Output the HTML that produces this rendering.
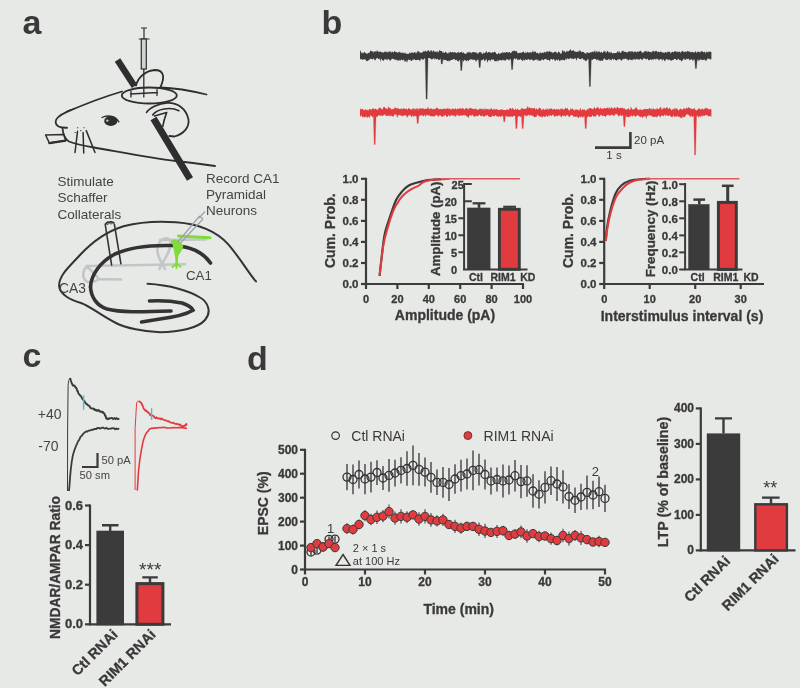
<!DOCTYPE html>
<html><head><meta charset="utf-8"><title>Figure</title>
<style>html,body{margin:0;padding:0;background:#e7e9e6;width:800px;height:688px;overflow:hidden}svg{display:block;will-change:transform}text{font-family:"Liberation Sans",sans-serif}</style>
</head><body><svg width="800" height="688" viewBox="0 0 800 688">
<rect width="800" height="688" fill="#e7e9e6"/>
<g font-family="Liberation Sans" font-weight="bold" font-size="34" fill="#393939">
<text x="22.5" y="33.5">a</text><text x="321.5" y="34">b</text><text x="22.5" y="366.5">c</text><text x="247" y="369.5">d</text>
</g>
<g fill="none" stroke="#2e2e2e" stroke-width="1.8" stroke-linecap="round" stroke-linejoin="round">
<path d="M122,91.5 C105,96.5 85,104 66.9,111.9 C60,115 55.5,119 55.6,122 C55.8,126 60,128 67,127.75"/>
<path d="M160.5,87.5 C175,88 192,91 206.5,94.5"/>
<path d="M62.5,128.5 C63,133 65,139 69,141.5 C75,144 85,146 94,147.5 C120,152 150,158 176,161 C190,162.5 205,164.5 215,166"/>
<path d="M66.5,111.5 l4,-1.8 M70.5,110 l4,-1.6" stroke-width="1.1"/>
<path d="M45.6,135 L63.75,134.5 L65.6,140.6 L49.4,143.1 Z" stroke-width="1.5"/><path d="M49.4,143.1 L65.6,140.6" stroke-width="2.2"/>
<path d="M77.5,131.3 L75,152.5 M83.1,132.5 L83.75,153.1 M86.25,130.6 L95,152.5" stroke-width="1.5"/>
<path d="M77.5,127.8 l0.3,0 M83.8,127.8 l0.3,0 M75,132.5 l0.3,0 M80.6,130.6 l0.3,0" stroke-width="1.1"/>
<ellipse cx="110.8" cy="121" rx="6.6" ry="4.9" fill="#2e2e2e" stroke="none"/>
<path d="M102,117.5 C107,114.8 115,115.5 118.8,121.8" stroke-width="1.4"/>
<circle cx="107.3" cy="120.6" r="1.2" fill="#c8cac8" stroke="none"/>
<path d="M146.6,112.4 C149,108.5 158,103 167.5,102.8 C177,102.5 186,108 188.5,119.4 C189.5,127 184,134 174.5,136.5 L169.3,136"/>
<path d="M152.7,115 C157,109 170,106.5 179,110.7" stroke-width="1.6"/>
<path d="M154.5,116 L166.7,112.4 C165,117 163.5,122 162.8,126.3" stroke-width="1.6"/>
<path d="M136,85.5 C138,77 146,70.5 155,70 C163,70 166,76 160,88"/>
<ellipse cx="149.3" cy="95.5" rx="27.5" ry="8"/>
<path d="M130.5,94 L157.5,92.5 M131,91 l0,6 M157,89.5 l0,6" stroke-width="1.3"/>
</g>
<path d="M117.5,60 L134.5,86.3" stroke="#2e2e2e" stroke-width="6.5" fill="none"/>
<path d="M153.5,118.5 L190,179" stroke="#2e2e2e" stroke-width="7" fill="none"/>
<g stroke="#2e2e2e" stroke-width="1.2" fill="none">
<path d="M141,28 L147,28 M144,28 L144,39 M138.8,39 L149.5,39"/>
<rect x="141.3" y="39" width="5" height="30" fill="#cfd3d4"/>
<path d="M143.8,69 L143.8,97.5" stroke-width="1.3"/>
</g>
<g fill="none" stroke="#333" stroke-linecap="round" stroke-linejoin="round">
<path stroke-width="2" d="M256,281.4 C250,275 240,258 228.5,244.6 C218,233 200,224 176,222.3 C160,221 140,222 123.5,226.2 C108,231 92,242 80,255 C70,266 58,276 59.2,286.6 C60,294 70,300 81,303 C90,306 100,315 115,322.5 C125,328 145,332 160,332.2 C180,332 198,328 205,320 C212,312 208,302 200,297.5 C190,291 170,285 147.5,283.8"/>
</g>
<g fill="none" stroke="#c4c5c6" stroke-width="2.6" stroke-linecap="round" stroke-linejoin="round">
<path d="M87,266 L185,264.3"/>
<path d="M87,266 C83,270 82,276 85,280 C88,284 95,282 99,279 L121,279.5 M99,279 C95,274 90,270 87,266"/>
<path d="M162,263.5 C158,257 156,249 159,243 C162,238 168,237 170,240.5 C172,245 168,255 162,263.5 M160,240 L206,239.5 M162,263 l-2.5,6 M162,263 l3,6"/>
</g>
<g fill="none" stroke="#333" stroke-width="3.6" stroke-linecap="round">
<path d="M90.5,287 C91,275 100,262 115,254 C130,247 150,245 172,245.5 C190,246 203,252 210.5,263"/>
<path d="M90.5,287 C91,297 97,306 107,309 C120,312.5 140,312 171,311"/>
<path d="M149.5,301 C160,300.5 172,301 182,303 C188,305 192,308 193,310.2 C185,315 175,317 160,319 L141.5,322"/>
</g>
<g fill="none" stroke="#333" stroke-width="1.6">
<path d="M105.3,225 L111.7,265.6 M114.3,223.8 L121,264.3 M105,225 C106,222 112,220.5 114.5,223.5"/>
<path d="M107.5,224.5 a1.3,1.3 0 1 1 0.1,0 M111,224 a1.3,1.3 0 1 1 0.1,0" stroke-width="1"/>
</g>
<g fill="#7fdc3a" stroke="#7fdc3a" stroke-linecap="round">
<path d="M178.6,236 L210,237.8" stroke-width="3" fill="none"/>
<path d="M172,241.5 C175,240 180,241 182,246 C181,251 178,253 177,256 L176.5,264" stroke-width="2.5"/>
<path d="M176.5,264 l-4,3 M176.5,264 l4,2.5 M176.5,264 l0,4" stroke-width="2" fill="none"/>
</g>
<g fill="none" stroke="#9aa3a7" stroke-width="1.2">
<path d="M205,211.5 L199,218 M199.5,216 L177.5,242.5 M203,219 L180,243.5 M199.5,216 L203,219"/>
</g>
<g font-family="Liberation Sans" font-size="13.5" fill="#444">
<text x="57.5" y="186">Stimulate</text><text x="57.5" y="202.3">Schaffer</text><text x="57.5" y="218.5">Collaterals</text>
<text x="206" y="182.5">Record CA1</text><text x="206" y="198.8">Pyramidal</text><text x="206" y="215">Neurons</text>
<text x="59" y="293" font-size="13.8">CA3</text><text x="186" y="280.3" font-size="13.3">CA1</text>
</g>
<path d="M360,52.2 360.7,49.9 361.4,53 362.1,53.4 362.8,52.3 363.5,53.6 364.2,51.5 364.9,52.5 365.6,52.9 366.3,53.7 367,53.6 367.7,53.6 368.4,53 369.1,52.4 369.8,52.6 370.5,50.2 371.2,50.9 371.9,50.9 372.6,51.6 373.3,52.7 374,50.8 374.7,52.2 375.4,50.7 376.1,52.2 376.8,50.5 377.5,50.4 378.2,52.3 378.9,51.2 379.6,51.9 380.3,51.3 381,51.9 381.7,52.6 382.4,52.1 383.1,53.1 383.8,51.9 384.5,51.5 385.2,52.6 385.9,51.1 386.6,52.1 387.3,52.2 388,52.4 388.7,51.5 389.4,51 390.1,52.7 390.8,50.7 391.5,52.8 392.2,51.4 392.9,51.9 393.6,52.7 394.3,50.7 395,51.5 395.7,51.9 396.4,51.9 397.1,52.8 397.8,52.4 398.5,52.1 399.2,52.4 399.9,51.3 400.6,53.1 401.3,53 402,52.4 402.7,52.4 403.4,53.6 404.1,52.1 404.8,54.1 405.5,52.4 406.2,53.9 406.9,53.5 407.6,54.1 408.3,53.8 409,53.7 409.7,52.3 410.4,53.4 411.1,52.5 411.8,52.6 412.5,52.4 413.2,53.2 413.9,52.4 414.6,51.8 415.3,53.4 416,51.6 416.7,53.7 417.4,51.3 418.1,51.1 418.8,51.4 419.5,52.6 420.2,52.2 420.9,52.7 421.6,52.8 422.3,52.5 423,51.8 423.7,50.9 424.4,51.5 425.1,51.3 425.8,50.4 426.5,51.8 427.2,51.6 427.9,50.3 428.6,50.1 429.3,51.6 430,52.1 430.7,50.2 431.4,50.5 432.1,50.5 432.8,52.4 433.5,50 434.2,50.9 434.9,52.3 435.6,51.4 436.3,51.3 437,52.7 437.7,50.9 438.4,52.7 439.1,50.4 439.8,50.3 440.5,50.9 441.2,50.9 441.9,51 442.6,53 443.3,51.5 444,53.2 444.7,52.7 445.4,51.6 446.1,52.4 446.8,52.6 447.5,53.4 448.2,53.7 448.9,51.8 449.6,53.1 450.3,51.4 451,52.5 451.7,52.3 452.4,51.8 453.1,53.1 453.8,52.1 454.5,52.2 455.2,52 455.9,53.1 456.6,53.3 457.3,52 458,52.8 458.7,52 459.4,53 460.1,52.1 460.8,52.5 461.5,51.6 462.2,52.5 462.9,53.3 463.6,52 464.3,53.3 465,54 465.7,53.7 466.4,53.8 467.1,52 467.8,52.7 468.5,52.3 469.2,52.6 469.9,51.6 470.6,52.7 471.3,53.6 472,51.9 472.7,52.5 473.4,51.9 474.1,52 474.8,52.5 475.5,51.9 476.2,53.4 476.9,51.9 477.6,53.8 478.3,53.8 479,51.9 479.7,52.2 480.4,52.2 481.1,52.1 481.8,53.4 482.5,54 483.2,53.6 483.9,52 484.6,53.6 485.3,52.7 486,51.3 486.7,51.4 487.4,53.3 488.1,52.2 488.8,52 489.5,52.2 490.2,52.1 490.9,53.3 491.6,52.7 492.3,52 493,52.5 493.7,52.4 494.4,51.7 495.1,51.8 495.8,52.7 496.5,54.1 497.2,54.2 497.9,54 498.6,52.6 499.3,54.4 500,52.6 500.7,54.1 501.4,52.4 502.1,53.5 502.8,51.6 503.5,53 504.2,52.3 504.9,52.7 505.6,52.6 506.3,51.7 507,52.4 507.7,52.3 508.4,52.7 509.1,51.9 509.8,52 510.5,53.3 511.2,53 511.9,51.6 512.6,51.3 513.3,50.6 514,51.2 514.7,50.4 515.4,51.2 516.1,51.5 516.8,50.5 517.5,53.2 518.2,53 518.9,53.3 519.6,52.8 520.3,52.4 521,53.2 521.7,52.6 522.4,52.2 523.1,51.6 523.8,51.7 524.5,53 525.2,53.3 525.9,51.6 526.6,53.5 527.3,51.5 528,52.4 528.7,52.5 529.4,52.5 530.1,52.5 530.8,52 531.5,52.8 532.2,52.2 532.9,50.3 533.6,52.1 534.3,52.2 535,51.2 535.7,51.4 536.4,53.2 537.1,53 537.8,52.5 538.5,53.7 539.2,53.9 539.9,52.1 540.6,52.4 541.3,52.9 542,53.2 542.7,52.3 543.4,53.3 544.1,51.6 544.8,52.4 545.5,52 546.2,52.5 546.9,51.1 547.6,51.5 548.3,52.3 549,51.1 549.7,51.2 550.4,51.9 551.1,51.5 551.8,52.6 552.5,52.5 553.2,52.8 553.9,52.4 554.6,51.7 555.3,51.8 556,51.8 556.7,52.8 557.4,53.7 558.1,51.3 558.8,52 559.5,52 560.2,53.7 560.9,53.5 561.6,53.5 562.3,50.2 563,50.3 563.7,52.1 564.4,50.4 565.1,52.2 565.8,52.4 566.5,51.2 567.2,50.5 567.9,51.9 568.6,51.1 569.3,50.7 570,49.9 570.7,48.9 571.4,51.2 572.1,50.7 572.8,50.6 573.5,50.1 574.2,51.6 574.9,51.2 575.6,51.7 576.3,51.7 577,52.2 577.7,51.2 578.4,52 579.1,49.8 579.8,51.7 580.5,50.2 581.2,52 581.9,52.1 582.6,51.7 583.3,52 584,52.2 584.7,53.2 585.4,53.3 586.1,54.1 586.8,52.1 587.5,52.4 588.2,53 588.9,52.7 589.6,53 590.3,52.3 591,52.1 591.7,52.6 592.4,51.6 593.1,51.8 593.8,52.3 594.5,50.1 595.2,52.9 595.9,50.5 596.6,51.5 597.3,52.7 598,50.2 598.7,52.2 599.4,51.2 600.1,52.2 600.8,52.8 601.5,51.5 602.2,52.7 602.9,52.9 603.6,51 604.3,51.7 605,50.3 605.7,52.7 606.4,52.6 607.1,51.3 607.8,50.8 608.5,52.8 609.2,51.5 609.9,53.3 610.6,52.2 611.3,51.8 612,53.2 612.7,53.4 613.4,53.1 614.1,53.2 614.8,52.9 615.5,53 616.2,53.1 616.9,52.6 617.6,50.8 618.3,53.1 619,50.5 619.7,52.3 620.4,52.8 621.1,53 621.8,50.7 622.5,50.9 623.2,50.6 623.9,52.1 624.6,51.7 625.3,51.6 626,52.6 626.7,52 627.4,52.4 628.1,52 628.8,51.3 629.5,51.3 630.2,50.9 630.9,52.4 631.6,51.1 632.3,51.3 633,51.7 633.7,52.5 634.4,51.8 635.1,51.1 635.8,52 636.5,52.4 637.2,51.6 637.9,51.6 638.6,51.9 639.3,51.2 640,50.9 640.7,50.8 641.4,51.5 642.1,52.8 642.8,52.7 643.5,52.6 644.2,51.3 644.9,51.5 645.6,51 646.3,51.8 647,50.5 647.7,52.5 648.4,51 649.1,51.7 649.8,52.1 650.5,52.3 651.2,51.6 651.9,52.8 652.6,51 653.3,50.4 654,51.8 654.7,51.5 655.4,50.8 656.1,51.6 656.8,50.4 657.5,52.3 658.2,52 658.9,51.4 659.6,52.4 660.3,51.4 661,51.5 661.7,52.2 662.4,52.7 663.1,52.1 663.8,53.1 664.5,52.8 665.2,52.3 665.9,51.9 666.6,52.7 667.3,52.3 668,51.6 668.7,52.1 669.4,51.5 670.1,52 670.8,53.9 671.5,51.9 672.2,51.9 672.9,51.4 673.6,52.6 674.3,51 675,52.1 675.7,50.8 676.4,51.6 677.1,52.4 677.8,51.3 678.5,52.2 679.2,51.8 679.9,51.5 680.6,52.9 681.3,51.8 682,50.9 682.7,50.9 683.4,52.2 684.1,51.2 684.8,52.6 685.5,50.9 686.2,52.6 686.9,51.4 687.6,50.8 688.3,51.3 689,51.8 689.7,51.5 690.4,51.9 691.1,52.4 691.8,52 692.5,51.7 693.2,51.9 693.9,53 694.6,52.3 695.3,51.1 696,51.9 696.7,53.1 697.4,51.8 698.1,51.7 698.8,51.5 699.5,52.4 700.2,52.3 700.9,51.2 701.6,51.2 702.3,51.1 703,52.4 703.7,52 704.4,52.1 705.1,51.4 705.8,53.8 706.5,51.4 707.2,51.7 707.9,52.4 708.6,51.8 709.3,51.6 710,51.9 710.7,51.4 711.4,52.3 L711.4,58.7 710.7,59.9 710,58.4 709.3,59.2 708.6,58.7 707.9,57.9 707.2,59.6 706.5,60.3 705.8,61.3 705.1,59.4 704.4,59.8 703.7,60 703,59.6 702.3,60.5 701.6,59.6 700.9,60.1 700.2,59.1 699.5,60.3 698.8,61.5 698.1,58.8 697.4,60.8 696.7,59.3 696,61.1 695.3,60.7 694.6,59.6 693.9,59 693.2,61 692.5,60.4 691.8,59.1 691.1,59.6 690.4,59.8 689.7,60.4 689,59.2 688.3,58.4 687.6,58.9 686.9,59.6 686.2,58.5 685.5,59.9 684.8,60.3 684.1,58.3 683.4,59.1 682.7,60 682,61.2 681.3,61.6 680.6,59.7 679.9,60.2 679.2,59.8 678.5,58.5 677.8,59.4 677.1,59.8 676.4,60.2 675.7,58.9 675,59.1 674.3,58.7 673.6,59.9 672.9,59.8 672.2,60.2 671.5,60.7 670.8,60.4 670.1,59.9 669.4,59.7 668.7,59.2 668,60.8 667.3,59 666.6,59.2 665.9,59.2 665.2,61.1 664.5,61.3 663.8,59.4 663.1,59.1 662.4,61.1 661.7,59.2 661,59.3 660.3,58.8 659.6,60.6 658.9,59 658.2,60.5 657.5,58.7 656.8,58.6 656.1,59.4 655.4,59.4 654.7,58.4 654,59.6 653.3,59.4 652.6,58.9 651.9,60.5 651.2,59.2 650.5,59.2 649.8,60 649.1,60.2 648.4,60.2 647.7,58.6 647,59 646.3,59.4 645.6,58.9 644.9,58.4 644.2,58.4 643.5,58.1 642.8,60 642.1,59.6 641.4,59.7 640.7,58.5 640,59.1 639.3,59.8 638.6,59.2 637.9,59.9 637.2,58.8 636.5,58.8 635.8,60.2 635.1,58.9 634.4,59.5 633.7,58.8 633,60.4 632.3,59.4 631.6,60 630.9,60.3 630.2,59.3 629.5,59.2 628.8,59.9 628.1,60.8 627.4,58.9 626.7,59.6 626,58.7 625.3,58.5 624.6,59.3 623.9,58.2 623.2,59.5 622.5,59.3 621.8,60.4 621.1,60.7 620.4,59.6 619.7,58.8 619,59.8 618.3,59.2 617.6,59.3 616.9,61.1 616.2,60.1 615.5,60.3 614.8,59.2 614.1,59.1 613.4,59.9 612.7,58.7 612,58.7 611.3,60.7 610.6,59.3 609.9,60.8 609.2,58.7 608.5,58.9 607.8,59.8 607.1,59.9 606.4,59.9 605.7,60.1 605,58.5 604.3,58.5 603.6,59 602.9,60.9 602.2,60.8 601.5,60.2 600.8,61.3 600.1,60.4 599.4,60.6 598.7,60.8 598,58.8 597.3,60.3 596.6,60.2 595.9,58.9 595.2,59 594.5,58.7 593.8,59 593.1,59.2 592.4,59.9 591.7,60.2 591,59.1 590.3,58.5 589.6,59.1 588.9,59.5 588.2,58.6 587.5,59.6 586.8,60.3 586.1,61.2 585.4,61 584.7,60.3 584,59.2 583.3,60.1 582.6,58.2 581.9,57.9 581.2,59.4 580.5,59 579.8,59 579.1,58.9 578.4,57.4 577.7,58.2 577,58.5 576.3,61.1 575.6,57.9 574.9,58.5 574.2,58.6 573.5,59.3 572.8,58.8 572.1,58.4 571.4,59 570.7,57.7 570,58.9 569.3,58.2 568.6,59.6 567.9,58.2 567.2,58.5 566.5,59.9 565.8,57.9 565.1,60.3 564.4,60.6 563.7,59.8 563,60.3 562.3,59.7 561.6,60.2 560.9,59.5 560.2,60.9 559.5,61.3 558.8,59.7 558.1,59.3 557.4,61 556.7,59.6 556,59.7 555.3,61.3 554.6,60.3 553.9,59.1 553.2,58.9 552.5,60.1 551.8,59.1 551.1,58.9 550.4,59.4 549.7,61.6 549,59.7 548.3,60.1 547.6,60.1 546.9,59.8 546.2,59.1 545.5,59 544.8,59 544.1,59.8 543.4,60.4 542.7,59.3 542,59.6 541.3,60.1 540.6,60.8 539.9,60.6 539.2,60.9 538.5,60.6 537.8,59.2 537.1,60.8 536.4,59.2 535.7,59.5 535,60.3 534.3,60.2 533.6,60.7 532.9,60.5 532.2,59.8 531.5,59 530.8,60.6 530.1,59.6 529.4,60 528.7,59.3 528,59.1 527.3,59.9 526.6,60 525.9,59.6 525.2,59.5 524.5,60.9 523.8,59.1 523.1,60.9 522.4,60.7 521.7,60 521,59.9 520.3,58.6 519.6,60 518.9,59.6 518.2,59.8 517.5,60.2 516.8,58.6 516.1,58.4 515.4,59.4 514.7,58.6 514,58.2 513.3,59.7 512.6,61 511.9,59.2 511.2,58.7 510.5,58.9 509.8,60.6 509.1,58.8 508.4,60.7 507.7,59 507,59.9 506.3,58.8 505.6,61 504.9,60 504.2,60.7 503.5,59.8 502.8,60.8 502.1,59.2 501.4,61.1 500.7,60 500,60 499.3,60.3 498.6,61.4 497.9,59.5 497.2,61.6 496.5,61 495.8,61.5 495.1,60.8 494.4,61.4 493.7,59.2 493,59.4 492.3,60 491.6,59.4 490.9,59.2 490.2,62.1 489.5,59.8 488.8,59.9 488.1,60.8 487.4,62.8 486.7,59.8 486,59.1 485.3,60.8 484.6,61.4 483.9,59 483.2,59.6 482.5,60 481.8,60.3 481.1,60.2 480.4,61 479.7,59.7 479,59.5 478.3,59.3 477.6,60.3 476.9,59.6 476.2,61.9 475.5,60.8 474.8,60.1 474.1,59.6 473.4,60 472.7,60.1 472,59 471.3,59.5 470.6,59.6 469.9,59.4 469.2,60.1 468.5,61.2 467.8,60.6 467.1,60 466.4,61.7 465.7,60.3 465,60.2 464.3,59.7 463.6,61.9 462.9,59.9 462.2,60.3 461.5,59.8 460.8,60 460.1,59.2 459.4,60.2 458.7,61.8 458,61 457.3,61 456.6,59.4 455.9,60.4 455.2,59.7 454.5,59.3 453.8,58.9 453.1,59.6 452.4,59.6 451.7,60 451,60.1 450.3,60.5 449.6,61.5 448.9,60.1 448.2,61.5 447.5,61 446.8,60.7 446.1,60 445.4,60 444.7,59.8 444,60.4 443.3,59.5 442.6,59.2 441.9,58.6 441.2,58.9 440.5,58.3 439.8,59.9 439.1,59.5 438.4,60.3 437.7,58.8 437,58.7 436.3,59.6 435.6,59 434.9,58.1 434.2,60 433.5,57.7 432.8,59.4 432.1,58.8 431.4,59.7 430.7,58.7 430,58 429.3,58.2 428.6,58.1 427.9,58 427.2,58.7 426.5,59.8 425.8,58.3 425.1,58.9 424.4,57.9 423.7,60.1 423,59 422.3,60 421.6,58.7 420.9,58.8 420.2,61.2 419.5,60.6 418.8,59.6 418.1,60.2 417.4,59.7 416.7,60.2 416,59.8 415.3,60.4 414.6,59.1 413.9,60 413.2,59.2 412.5,60 411.8,61.1 411.1,60.9 410.4,59.8 409.7,60.3 409,59.7 408.3,59.5 407.6,60.9 406.9,62.8 406.2,60.1 405.5,61.6 404.8,62 404.1,60.3 403.4,59.5 402.7,60.5 402,60.1 401.3,59.3 400.6,60.9 399.9,59.5 399.2,60.8 398.5,60.6 397.8,60.3 397.1,60.7 396.4,59.5 395.7,59.8 395,59.7 394.3,59.4 393.6,59 392.9,58.7 392.2,58.8 391.5,59.1 390.8,60.4 390.1,60.6 389.4,60.3 388.7,59 388,58.8 387.3,60.3 386.6,60 385.9,58.5 385.2,60 384.5,59 383.8,60.6 383.1,61 382.4,60.1 381.7,59.7 381,58.2 380.3,62.1 379.6,58.4 378.9,58.8 378.2,59.2 377.5,57.8 376.8,58.3 376.1,58.8 375.4,60.2 374.7,60.6 374,58.7 373.3,58.4 372.6,59.4 371.9,59.3 371.2,58.7 370.5,58.7 369.8,58.9 369.1,60.3 368.4,60.2 367.7,60.7 367,61.2 366.3,60.9 365.6,59.4 364.9,59.8 364.2,59 363.5,59.6 362.8,59.5 362.1,60 361.4,58.9 360.7,59.5 360,58.4Z" fill="#3b3b3b" stroke="none"/><path d="M425.2,55.7 L426.1,99 L427.1,99 L428.1,55.7Z" fill="#3b3b3b" stroke="#3b3b3b" stroke-width="0.3"/><path d="M459.9,55.7 L460.8,70.5 L461.8,70.5 L462.8,55.7Z" fill="#3b3b3b" stroke="#3b3b3b" stroke-width="0.3"/><path d="M478.3,55.7 L479.2,67.5 L480.2,67.5 L481.2,55.7Z" fill="#3b3b3b" stroke="#3b3b3b" stroke-width="0.3"/><path d="M510.7,55.7 L511.6,69.5 L512.6,69.5 L513.6,55.7Z" fill="#3b3b3b" stroke="#3b3b3b" stroke-width="0.3"/><path d="M588.5,55.7 L589.4,86.5 L590.4,86.5 L591.4,55.7Z" fill="#3b3b3b" stroke="#3b3b3b" stroke-width="0.3"/><path d="M694.5,55.7 L695.4,68.5 L696.4,68.5 L697.4,55.7Z" fill="#3b3b3b" stroke="#3b3b3b" stroke-width="0.3"/><path d="M440.4,55.7 L441.3,64 L442.3,64 L443.3,55.7Z" fill="#3b3b3b" stroke="#3b3b3b" stroke-width="0.3"/>
<path d="M360,107.8 360.7,109.5 361.4,109.3 362.1,109.2 362.8,108.6 363.5,110 364.2,110.6 364.9,109.5 365.6,109.2 366.3,110.2 367,108.9 367.7,110.5 368.4,110.6 369.1,108.9 369.8,109.1 370.5,109.5 371.2,109.3 371.9,109.8 372.6,108.1 373.3,108.8 374,108.5 374.7,109.4 375.4,108.5 376.1,109.2 376.8,109.3 377.5,110.2 378.2,109.2 378.9,107.4 379.6,108.3 380.3,107.2 381,108.7 381.7,109 382.4,109.7 383.1,107.8 383.8,106.8 384.5,107.1 385.2,107.8 385.9,108.6 386.6,108.7 387.3,109 388,108.1 388.7,106 389.4,108.3 390.1,107.7 390.8,108.6 391.5,109.7 392.2,109 392.9,109.3 393.6,109.3 394.3,107.2 395,108.7 395.7,107.1 396.4,108.2 397.1,108.8 397.8,107.9 398.5,108.2 399.2,109.2 399.9,108.9 400.6,109 401.3,107.9 402,109.8 402.7,108.5 403.4,108.2 404.1,108.4 404.8,109.1 405.5,109 406.2,107.9 406.9,109.5 407.6,109.7 408.3,108.2 409,107.9 409.7,108.9 410.4,109.2 411.1,109 411.8,110.2 412.5,108.2 413.2,107.9 413.9,109.4 414.6,108.7 415.3,108.5 416,109.9 416.7,108 417.4,108 418.1,109.9 418.8,108.8 419.5,108.2 420.2,108.5 420.9,108.4 421.6,108.6 422.3,108.6 423,108.4 423.7,108.6 424.4,109.1 425.1,109.3 425.8,108.5 426.5,108.9 427.2,108.5 427.9,107 428.6,108 429.3,109.7 430,108.2 430.7,108.8 431.4,108.5 432.1,108.9 432.8,109.6 433.5,108.3 434.2,109.9 434.9,108.8 435.6,108.7 436.3,108.1 437,107.6 437.7,107.9 438.4,109.2 439.1,109.2 439.8,108.7 440.5,108.8 441.2,109.5 441.9,108.9 442.6,108.9 443.3,108.7 444,108.6 444.7,109.1 445.4,109.3 446.1,108 446.8,109.3 447.5,108.3 448.2,108.1 448.9,109.4 449.6,108.2 450.3,109.1 451,110 451.7,109 452.4,107.9 453.1,109 453.8,109.3 454.5,108.9 455.2,108.6 455.9,108.2 456.6,109.8 457.3,108.8 458,108.4 458.7,109.1 459.4,108 460.1,109.1 460.8,108.1 461.5,109.1 462.2,107.8 462.9,108.6 463.6,108.4 464.3,109.7 465,109.3 465.7,108.1 466.4,108 467.1,109.2 467.8,107.7 468.5,109.7 469.2,108.6 469.9,108 470.6,107.8 471.3,108.5 472,108.6 472.7,108.9 473.4,108.7 474.1,109.4 474.8,108.5 475.5,108.5 476.2,109.8 476.9,108.6 477.6,109.9 478.3,109.9 479,109.3 479.7,108.6 480.4,108.4 481.1,109.5 481.8,108.4 482.5,109.4 483.2,108.3 483.9,110 484.6,108.9 485.3,107.9 486,110 486.7,108.8 487.4,109 488.1,109.2 488.8,109.2 489.5,109.6 490.2,109.4 490.9,108.2 491.6,108.2 492.3,109.6 493,109.9 493.7,108.8 494.4,109 495.1,109.9 495.8,108.8 496.5,109.1 497.2,109.2 497.9,110.4 498.6,109.3 499.3,109.9 500,110 500.7,109.4 501.4,109.2 502.1,109.2 502.8,109.8 503.5,109.9 504.2,109.9 504.9,110 505.6,110.2 506.3,109.8 507,109.3 507.7,109.6 508.4,109.9 509.1,109.6 509.8,108 510.5,108.1 511.2,108.8 511.9,109.4 512.6,107.5 513.3,108.8 514,110.1 514.7,110 515.4,108.3 516.1,109.2 516.8,109.9 517.5,108.5 518.2,109.3 518.9,109.9 519.6,109.9 520.3,109.8 521,109 521.7,108 522.4,108.6 523.1,108.5 523.8,109 524.5,109.2 525.2,108.3 525.9,109.3 526.6,108.4 527.3,106.4 528,106.5 528.7,108.4 529.4,107.4 530.1,107.3 530.8,108.5 531.5,108.1 532.2,108.8 532.9,107.8 533.6,108.4 534.3,107.7 535,108 535.7,109.9 536.4,107.9 537.1,108.9 537.8,109.7 538.5,109.1 539.2,107.6 539.9,107.9 540.6,108.2 541.3,109.6 542,110.7 542.7,108.8 543.4,108.8 544.1,109.5 544.8,110.3 545.5,108.4 546.2,110 546.9,108.6 547.6,108.7 548.3,110 549,108.2 549.7,109.3 550.4,108.6 551.1,108.5 551.8,108.6 552.5,109.7 553.2,109.4 553.9,108.5 554.6,109.3 555.3,109.8 556,109.2 556.7,108.7 557.4,110.1 558.1,108.6 558.8,109.6 559.5,109.9 560.2,108.6 560.9,109.4 561.6,108.6 562.3,108.3 563,110.2 563.7,108.9 564.4,109.6 565.1,108.3 565.8,107.6 566.5,109 567.2,108.2 567.9,108.3 568.6,110.4 569.3,110.2 570,110 570.7,108.1 571.4,109.4 572.1,108.7 572.8,108.6 573.5,110.1 574.2,109.8 574.9,110.7 575.6,109 576.3,109.4 577,109.7 577.7,109.5 578.4,110 579.1,111.1 579.8,109.3 580.5,107.7 581.2,109.7 581.9,110.8 582.6,109.1 583.3,109.2 584,110.3 584.7,108.8 585.4,110.9 586.1,110.3 586.8,109.9 587.5,108.6 588.2,109.9 588.9,108.1 589.6,108.2 590.3,108.1 591,108.4 591.7,108.5 592.4,109.5 593.1,108.1 593.8,109.2 594.5,106.6 595.2,108.3 595.9,108.9 596.6,107.7 597.3,107.5 598,106.9 598.7,107.9 599.4,109.5 600.1,108.1 600.8,107.5 601.5,108.9 602.2,109.1 602.9,107.9 603.6,109 604.3,107.9 605,108 605.7,108.5 606.4,108.3 607.1,107.8 607.8,107.4 608.5,108.8 609.2,106.6 609.9,108.9 610.6,108.6 611.3,107.3 612,107.6 612.7,108.5 613.4,109 614.1,106.9 614.8,107.8 615.5,107.9 616.2,108.7 616.9,106.9 617.6,107.3 618.3,107.5 619,108.8 619.7,108.1 620.4,107.7 621.1,108.1 621.8,107.7 622.5,107.8 623.2,108.5 623.9,108.5 624.6,108.2 625.3,109.6 626,109.4 626.7,109.8 627.4,108.9 628.1,108.5 628.8,108.4 629.5,110 630.2,109.7 630.9,106.4 631.6,108.1 632.3,109.5 633,109.8 633.7,108.9 634.4,109.2 635.1,108.8 635.8,106.7 636.5,107.9 637.2,108.3 637.9,109.8 638.6,110.2 639.3,109.3 640,110 640.7,109.3 641.4,109.4 642.1,110.1 642.8,109.9 643.5,109.3 644.2,108.5 644.9,109.6 645.6,109 646.3,109 647,108.9 647.7,108.9 648.4,109.5 649.1,108.1 649.8,108.1 650.5,109.6 651.2,107.9 651.9,110 652.6,108.8 653.3,108.2 654,109.3 654.7,109.3 655.4,108.9 656.1,110.1 656.8,108 657.5,108.2 658.2,109.6 658.9,109 659.6,108.3 660.3,106.9 661,107.2 661.7,109.8 662.4,109.2 663.1,107.5 663.8,108.7 664.5,107.5 665.2,109.3 665.9,107.5 666.6,107.6 667.3,107.3 668,108.5 668.7,109.3 669.4,107.7 670.1,108 670.8,109.4 671.5,110.6 672.2,108.8 672.9,110.1 673.6,109.1 674.3,107.8 675,110 675.7,107.8 676.4,108.2 677.1,109.4 677.8,108.7 678.5,111 679.2,110.1 679.9,108.8 680.6,108.5 681.3,109.4 682,108.9 682.7,109.9 683.4,108.6 684.1,108.3 684.8,108.5 685.5,109.2 686.2,108 686.9,107.4 687.6,108.7 688.3,106.9 689,107.6 689.7,108 690.4,109 691.1,108.1 691.8,109 692.5,109.3 693.2,109.3 693.9,108 694.6,108.2 695.3,109.6 696,110.4 696.7,110.3 697.4,110 698.1,109 698.8,108.2 699.5,108.3 700.2,110.1 700.9,109.2 701.6,108.6 702.3,109.4 703,108.2 703.7,109.9 704.4,108.7 705.1,108.6 705.8,107.6 706.5,108.5 707.2,108.3 707.9,108.4 708.6,109.3 709.3,109.5 710,109.4 710.7,108.4 711.4,109.4 L711.4,117.2 710.7,115.9 710,115.9 709.3,116.5 708.6,116.5 707.9,115.6 707.2,115.2 706.5,115.4 705.8,114.4 705.1,115.8 704.4,115.7 703.7,115.7 703,115.2 702.3,116.7 701.6,115.8 700.9,115.9 700.2,117.2 699.5,115.9 698.8,117 698.1,117.6 697.4,115.5 696.7,115.5 696,117.1 695.3,117.3 694.6,116.9 693.9,116.3 693.2,115.7 692.5,117.1 691.8,117 691.1,115 690.4,117 689.7,116.5 689,115.2 688.3,114.8 687.6,114.1 686.9,115.1 686.2,114.3 685.5,116 684.8,117.1 684.1,117.2 683.4,117.2 682.7,116.1 682,119 681.3,117.4 680.6,117.7 679.9,117.4 679.2,116.5 678.5,116.8 677.8,116.9 677.1,115.2 676.4,117 675.7,116.5 675,116.6 674.3,116.9 673.6,115.2 672.9,116.3 672.2,117.4 671.5,117 670.8,116.3 670.1,116.2 669.4,114.9 668.7,116.2 668,115.3 667.3,115.9 666.6,114.7 665.9,116.4 665.2,115 664.5,114.6 663.8,115.9 663.1,116.4 662.4,115.2 661.7,116 661,115.4 660.3,117.7 659.6,116.7 658.9,114.9 658.2,116 657.5,116.6 656.8,117.8 656.1,116.3 655.4,117.1 654.7,116.5 654,117.1 653.3,117.2 652.6,116.7 651.9,115.8 651.2,115.9 650.5,115.6 649.8,115.4 649.1,114.9 648.4,115.4 647.7,116.4 647,115.2 646.3,119.3 645.6,117 644.9,115.9 644.2,116.4 643.5,116.6 642.8,117.4 642.1,118.2 641.4,116.1 640.7,116.9 640,117.2 639.3,116.3 638.6,115.6 637.9,115.7 637.2,115 636.5,116 635.8,117 635.1,115.9 634.4,116.3 633.7,114.9 633,115.9 632.3,117 631.6,115.2 630.9,115.7 630.2,116.8 629.5,116.4 628.8,117.4 628.1,116.8 627.4,117 626.7,117 626,115.3 625.3,115.6 624.6,115.3 623.9,116.8 623.2,114.3 622.5,115.4 621.8,116.4 621.1,115.2 620.4,115 619.7,115.7 619,116.2 618.3,116.2 617.6,114.4 616.9,114.2 616.2,113.7 615.5,114.1 614.8,115.3 614.1,116.2 613.4,115.4 612.7,114.7 612,115.7 611.3,114.3 610.6,115.7 609.9,115.1 609.2,116.2 608.5,114.8 607.8,114.7 607.1,115.2 606.4,115.5 605.7,117.5 605,116 604.3,116.3 603.6,115.2 602.9,116.3 602.2,116.1 601.5,115.1 600.8,114.5 600.1,116 599.4,116.6 598.7,116.7 598,114.3 597.3,115 596.6,114.7 595.9,116.6 595.2,116.8 594.5,115.9 593.8,117.1 593.1,115.8 592.4,115.2 591.7,116.7 591,116.7 590.3,117 589.6,116.8 588.9,116.7 588.2,116 587.5,117.6 586.8,116.8 586.1,117.1 585.4,117.8 584.7,115.7 584,115.8 583.3,117.4 582.6,117.7 581.9,116 581.2,117 580.5,117.7 579.8,116.6 579.1,117 578.4,118.2 577.7,117.1 577,117.7 576.3,115.8 575.6,116.9 574.9,116.6 574.2,117 573.5,116.7 572.8,115.3 572.1,115.2 571.4,115 570.7,115.6 570,116.1 569.3,117.5 568.6,116.6 567.9,115.2 567.2,115.3 566.5,115.3 565.8,117.1 565.1,115.8 564.4,115.6 563.7,116.3 563,115.9 562.3,115.2 561.6,117.7 560.9,116.7 560.2,115.6 559.5,115.6 558.8,115.3 558.1,115.9 557.4,116.5 556.7,115.3 556,116.5 555.3,116.2 554.6,116.7 553.9,116.2 553.2,114.5 552.5,114.8 551.8,115.5 551.1,116.6 550.4,114.7 549.7,116.4 549,114.4 548.3,116.6 547.6,117 546.9,115.8 546.2,115.5 545.5,117 544.8,117 544.1,116.5 543.4,116.1 542.7,117 542,117.8 541.3,116.3 540.6,116.5 539.9,116.9 539.2,115.8 538.5,116.2 537.8,114.7 537.1,115 536.4,117 535.7,117.1 535,116.7 534.3,117.4 533.6,116.4 532.9,115.3 532.2,116 531.5,115.8 530.8,114.9 530.1,115 529.4,116 528.7,114.6 528,115.6 527.3,115.4 526.6,116.4 525.9,115.1 525.2,116.6 524.5,114.7 523.8,115.4 523.1,114.8 522.4,114.8 521.7,115.3 521,116.4 520.3,117.3 519.6,115.9 518.9,116.5 518.2,116.2 517.5,116.4 516.8,117.3 516.1,115.5 515.4,116.7 514.7,115.4 514,115.9 513.3,115.9 512.6,116.9 511.9,116.6 511.2,116.7 510.5,116.5 509.8,116.3 509.1,116.7 508.4,116.7 507.7,116.9 507,115.7 506.3,116.5 505.6,115.5 504.9,116.3 504.2,116 503.5,117.2 502.8,115.3 502.1,116.7 501.4,115.8 500.7,117.4 500,116 499.3,116.3 498.6,117.3 497.9,115.9 497.2,116.5 496.5,116.5 495.8,115.3 495.1,115.3 494.4,116.7 493.7,115.9 493,116.2 492.3,115.6 491.6,116.4 490.9,117.2 490.2,116.9 489.5,116.4 488.8,116.8 488.1,116.2 487.4,114.7 486.7,115.6 486,115.8 485.3,115.4 484.6,117.1 483.9,115.9 483.2,117 482.5,115 481.8,116.5 481.1,116 480.4,115.9 479.7,114.6 479,115.3 478.3,116 477.6,116.3 476.9,116.3 476.2,115.6 475.5,116.6 474.8,116.5 474.1,116.7 473.4,116 472.7,115.1 472,114.7 471.3,116.3 470.6,115.1 469.9,115.5 469.2,115.7 468.5,117.9 467.8,117.2 467.1,116.2 466.4,116.5 465.7,114.7 465,115.9 464.3,114.8 463.6,115 462.9,115.6 462.2,115.8 461.5,115.4 460.8,115.2 460.1,115.7 459.4,116.1 458.7,115.1 458,116.7 457.3,114.5 456.6,114.8 455.9,116.7 455.2,116.5 454.5,115.4 453.8,116.6 453.1,114.8 452.4,115.8 451.7,115.3 451,115.8 450.3,115.6 449.6,116.8 448.9,115.6 448.2,115 447.5,116.9 446.8,116.9 446.1,116.3 445.4,114.6 444.7,115.9 444,115.6 443.3,116.3 442.6,117 441.9,116.2 441.2,116.8 440.5,115 439.8,116 439.1,115.1 438.4,117.3 437.7,116 437,114.7 436.3,115.4 435.6,114.9 434.9,116.6 434.2,116 433.5,116.7 432.8,115.9 432.1,116.6 431.4,116 430.7,116.4 430,115.9 429.3,115.3 428.6,115.2 427.9,115.7 427.2,114.9 426.5,114.6 425.8,117 425.1,115.8 424.4,114.6 423.7,116.7 423,115.4 422.3,115.7 421.6,115.3 420.9,114.7 420.2,115.7 419.5,116.1 418.8,116.1 418.1,114.8 417.4,116.6 416.7,116.8 416,115.4 415.3,116.4 414.6,115.6 413.9,117.2 413.2,116.1 412.5,115.2 411.8,117.1 411.1,117.1 410.4,115.1 409.7,115.2 409,114.8 408.3,116.3 407.6,118 406.9,115.2 406.2,117 405.5,115.1 404.8,115 404.1,115.8 403.4,115.7 402.7,116.7 402,115.1 401.3,116.2 400.6,115.2 399.9,115.6 399.2,114.8 398.5,114.9 397.8,116.7 397.1,118 396.4,114.5 395.7,114.4 395,114.9 394.3,114 393.6,116.8 392.9,116.5 392.2,116.3 391.5,115.9 390.8,115.1 390.1,117.1 389.4,115.6 388.7,115.4 388,116.2 387.3,115.6 386.6,115.9 385.9,116.2 385.2,114.5 384.5,114.5 383.8,114.9 383.1,115.8 382.4,116 381.7,115.7 381,115.2 380.3,116.3 379.6,115.2 378.9,115.1 378.2,115.8 377.5,116.7 376.8,116.4 376.1,116.8 375.4,116.3 374.7,115.5 374,114.8 373.3,116.8 372.6,117.5 371.9,116.3 371.2,115.7 370.5,114.9 369.8,117.5 369.1,117.7 368.4,116.3 367.7,117.7 367,117.8 366.3,116.1 365.6,116.9 364.9,117.5 364.2,116.9 363.5,116.5 362.8,117.5 362.1,116.8 361.4,114.9 360.7,116.7 360,115.7Z" fill="#e23b3f" stroke="none"/><path d="M373.3,112.4 L374.2,144.4 L375.2,144.4 L376.2,112.4Z" fill="#e23b3f" stroke="#e23b3f" stroke-width="0.3"/><path d="M416.3,112.4 L417.2,123.4 L418.2,123.4 L419.2,112.4Z" fill="#e23b3f" stroke="#e23b3f" stroke-width="0.3"/><path d="M502.9,112.4 L503.8,121.8 L504.8,121.8 L505.8,112.4Z" fill="#e23b3f" stroke="#e23b3f" stroke-width="0.3"/><path d="M515,112.4 L515.9,128.6 L516.9,128.6 L517.9,112.4Z" fill="#e23b3f" stroke="#e23b3f" stroke-width="0.3"/><path d="M521.3,112.4 L522.2,128.6 L523.2,128.6 L524.2,112.4Z" fill="#e23b3f" stroke="#e23b3f" stroke-width="0.3"/><path d="M584.3,112.4 L585.2,128.4 L586.2,128.4 L587.2,112.4Z" fill="#e23b3f" stroke="#e23b3f" stroke-width="0.3"/><path d="M623,112.4 L623.9,126.6 L624.9,126.6 L625.9,112.4Z" fill="#e23b3f" stroke="#e23b3f" stroke-width="0.3"/><path d="M693.7,112.4 L694.6,155 L695.6,155 L696.6,112.4Z" fill="#e23b3f" stroke="#e23b3f" stroke-width="0.3"/>
<path d="M595,147.6 L630.4,147.6 L630.4,132" stroke="#3b3b3b" stroke-width="2.6" fill="none"/>
<g font-family="Liberation Sans" font-size="11.5" fill="#393939"><text x="634" y="144">20 pA</text><text x="614" y="159" text-anchor="middle">1 s</text></g>
<g font-family="Liberation Sans" font-weight="bold" fill="#393939" stroke="#393939" stroke-width="0.3">
<g font-size="11.5">
<path d="M366,285 L366,177.8" stroke="#3b3b3b" stroke-width="2.2" fill="none"/><path d="M361,284 L366,284" stroke="#3b3b3b" stroke-width="2.2"/><path d="M361,263 L366,263" stroke="#3b3b3b" stroke-width="2.2"/><path d="M361,241.9 L366,241.9" stroke="#3b3b3b" stroke-width="2.2"/><path d="M361,220.9 L366,220.9" stroke="#3b3b3b" stroke-width="2.2"/><path d="M361,199.8 L366,199.8" stroke="#3b3b3b" stroke-width="2.2"/><path d="M361,178.8 L366,178.8" stroke="#3b3b3b" stroke-width="2.2"/><text x="358.5" y="288" text-anchor="end">0.0</text><text x="358.5" y="266.9" text-anchor="end">0.2</text><text x="358.5" y="245.9" text-anchor="end">0.4</text><text x="358.5" y="224.8" text-anchor="end">0.6</text><text x="358.5" y="203.8" text-anchor="end">0.8</text><text x="358.5" y="182.8" text-anchor="end">1.0</text>
</g><g font-size="11">
<path d="M365,284 L524,284" stroke="#3b3b3b" stroke-width="2.2" fill="none"/><path d="M366,284 L366,289" stroke="#3b3b3b" stroke-width="2.2"/><path d="M397.4,284 L397.4,289" stroke="#3b3b3b" stroke-width="2.2"/><path d="M428.8,284 L428.8,289" stroke="#3b3b3b" stroke-width="2.2"/><path d="M460.2,284 L460.2,289" stroke="#3b3b3b" stroke-width="2.2"/><path d="M491.6,284 L491.6,289" stroke="#3b3b3b" stroke-width="2.2"/><path d="M523,284 L523,289" stroke="#3b3b3b" stroke-width="2.2"/><text x="366" y="302.7" text-anchor="middle">0</text><text x="397.4" y="302.7" text-anchor="middle">20</text><text x="428.8" y="302.7" text-anchor="middle">40</text><text x="460.2" y="302.7" text-anchor="middle">60</text><text x="491.6" y="302.7" text-anchor="middle">80</text><text x="523" y="302.7" text-anchor="middle">100</text>
</g>
<text x="445" y="320.3" font-size="14" text-anchor="middle">Amplitude (pA)</text>
<text transform="translate(334.5,230.7) rotate(-90)" font-size="14" text-anchor="middle">Cum. Prob.</text>
<path d="M379.6,275.8 C380.1,271.2 381.8,255.3 382.7,248 C383.6,240.7 383.9,237.2 385.2,231.9 C386.5,226.6 388.5,221.2 390.3,215.9 C392.1,210.6 394.2,203.9 396.2,199.8 C398.2,195.7 400,193.8 402.1,191.4 C404.2,189 406.3,187 408.8,185.5 C411.3,184 414.2,183.4 417.3,182.5 C420.4,181.6 423.5,180.7 427.4,180.1 C431.3,179.5 438.6,179.3 440.9,179.1" stroke="#3b3b3b" stroke-width="2.2" fill="none"/>
<path d="M379.6,275.3 C380.2,270.2 382.1,252.5 383.5,244.6 C384.9,236.7 386,233.5 387.7,227.7 C389.4,221.9 391.6,214.7 393.6,210 C395.6,205.3 397.8,202.3 399.5,199.8 C401.2,197.3 402,196.5 403.8,194.8 C405.6,193.1 408,191.2 410.5,189.7 C413,188.1 416.6,186.8 418.9,185.5 C421.1,184.2 421.5,182.8 424,181.8 C426.5,180.8 429.9,180.1 434.1,179.6 C438.3,179.1 446.8,179 449.3,178.9" stroke="#e23b3f" stroke-width="2" fill="none" stroke-linejoin="round"/>
<path d="M445,178.8 H520" stroke="#e05a5c" stroke-width="1.4" fill="none"/>
<path d="M464.1,183 V270.5 M463,269.4 H527.5" stroke="#3b3b3b" stroke-width="2" fill="none"/>
<path d="M464,184.1 H471.8 M464,201.2 H471.8 M458.4,218.3 H464 M458.4,235.3 H464 M458.4,252.3 H464" stroke="#3b3b3b" stroke-width="2"/>
<g font-size="11">
<text x="463.8" y="188.5" text-anchor="end">25</text>
<text x="457" y="205.6" text-anchor="end">20</text>
<text x="457" y="222.7" text-anchor="end">15</text>
<text x="457" y="239.7" text-anchor="end">10</text>
<text x="457" y="256.7" text-anchor="end">5</text>
<text x="457" y="273.8" text-anchor="end">0</text>
</g>
<rect x="467.2" y="207.9" width="23" height="61.5" fill="#3b3b3b"/>
<path d="M479,203.3 V207.9" stroke="#3b3b3b" stroke-width="2.6"/><path d="M472.6,203.3 H485.4" stroke="#3b3b3b" stroke-width="2.3"/>
<rect x="499.4" y="209.3" width="19.9" height="60" fill="#e23b3f" stroke="#3b3b3b" stroke-width="2.9"/>
<path d="M509.6,206.8 V208" stroke="#3b3b3b" stroke-width="2"/><path d="M503.2,206.8 H516" stroke="#3b3b3b" stroke-width="2.2"/>
<g font-size="10.5"><text x="469" y="280.6">Ctl</text><text x="490.5" y="280.6">RIM1</text><text x="520.2" y="280.6">KD</text></g>
<text transform="translate(439.8,228.8) rotate(-90)" font-size="13.2" text-anchor="middle">Amplitude (pA)</text>
<g font-size="11.5">
<path d="M604.2,285 L604.2,177.8" stroke="#3b3b3b" stroke-width="2.2" fill="none"/><path d="M599.2,284 L604.2,284" stroke="#3b3b3b" stroke-width="2.2"/><path d="M599.2,263 L604.2,263" stroke="#3b3b3b" stroke-width="2.2"/><path d="M599.2,241.9 L604.2,241.9" stroke="#3b3b3b" stroke-width="2.2"/><path d="M599.2,220.9 L604.2,220.9" stroke="#3b3b3b" stroke-width="2.2"/><path d="M599.2,199.8 L604.2,199.8" stroke="#3b3b3b" stroke-width="2.2"/><path d="M599.2,178.8 L604.2,178.8" stroke="#3b3b3b" stroke-width="2.2"/><text x="596.5" y="288" text-anchor="end">0.0</text><text x="596.5" y="266.9" text-anchor="end">0.2</text><text x="596.5" y="245.9" text-anchor="end">0.4</text><text x="596.5" y="224.8" text-anchor="end">0.6</text><text x="596.5" y="203.8" text-anchor="end">0.8</text><text x="596.5" y="182.8" text-anchor="end">1.0</text>
</g><g font-size="11">
<path d="M603,284 L764,284" stroke="#3b3b3b" stroke-width="2.2" fill="none"/><path d="M604.2,284 L604.2,289" stroke="#3b3b3b" stroke-width="2.2"/><path d="M649.7,284 L649.7,289" stroke="#3b3b3b" stroke-width="2.2"/><path d="M695.2,284 L695.2,289" stroke="#3b3b3b" stroke-width="2.2"/><path d="M740.7,284 L740.7,289" stroke="#3b3b3b" stroke-width="2.2"/><text x="604.2" y="302.7" text-anchor="middle">0</text><text x="649.7" y="302.7" text-anchor="middle">10</text><text x="695.2" y="302.7" text-anchor="middle">20</text><text x="740.7" y="302.7" text-anchor="middle">30</text>
</g>
<text x="682" y="321" font-size="14" text-anchor="middle">Interstimulus interval (s)</text>
<text transform="translate(572.5,230.7) rotate(-90)" font-size="14" text-anchor="middle">Cum. Prob.</text>
<path d="M605.8,241 C606,238.8 606.2,232.7 607,227.7 C607.8,222.7 608.9,216.4 610.3,210.8 C611.7,205.2 613.6,198.2 615.4,194 C617.2,189.8 618.9,187.7 621.3,185.5 C623.7,183.3 626.1,181.9 629.8,180.8 C633.5,179.7 639.9,179.3 643.3,179 C646.7,178.7 648.9,178.9 650,178.9" stroke="#3b3b3b" stroke-width="2.2" fill="none"/>
<path d="M605.8,241.2 C606.1,238.7 606.9,231.1 607.8,226 C608.7,220.9 609.8,215.7 611.2,210.8 C612.6,205.9 614.3,200.3 616.3,196.5 C618.3,192.7 620.8,190.3 623,188 C625.2,185.7 627,183.9 629.8,182.5 C632.6,181.1 636.5,180.2 639.9,179.6 C643.3,179 648.3,179 650,178.9" stroke="#e23b3f" stroke-width="2" fill="none"/>
<path d="M646,178.8 H739.3" stroke="#e05a5c" stroke-width="1.4" fill="none"/>
<path d="M685.1,183 V270.5 M684,269.4 H742.4" stroke="#3b3b3b" stroke-width="2" fill="none"/>
<g font-size="11.5">
<path d="M679.2,269.5 H685" stroke="#3b3b3b" stroke-width="2"/>
<text x="677.8" y="273.8" text-anchor="end">0.0</text>
<path d="M679.2,252.4 H685" stroke="#3b3b3b" stroke-width="2"/>
<text x="677.8" y="256.7" text-anchor="end">0.2</text>
<path d="M679.2,235.4 H685" stroke="#3b3b3b" stroke-width="2"/>
<text x="677.8" y="239.7" text-anchor="end">0.4</text>
<path d="M679.2,218.3 H685" stroke="#3b3b3b" stroke-width="2"/>
<text x="677.8" y="222.6" text-anchor="end">0.6</text>
<path d="M679.2,201.3 H685" stroke="#3b3b3b" stroke-width="2"/>
<text x="677.8" y="205.6" text-anchor="end">0.8</text>
<path d="M679.2,184.2 H685" stroke="#3b3b3b" stroke-width="2"/>
<text x="677.8" y="188.5" text-anchor="end">1.0</text>
</g>
<rect x="688.4" y="204.3" width="20.9" height="65.1" fill="#3b3b3b"/>
<path d="M699.3,199.6 V204.3" stroke="#3b3b3b" stroke-width="2.6"/><path d="M693.4,199.6 H705.1" stroke="#3b3b3b" stroke-width="2.5"/>
<rect x="718.4" y="202.4" width="17.9" height="67" fill="#e23b3f" stroke="#3b3b3b" stroke-width="3"/>
<path d="M727.7,185.8 V201" stroke="#3b3b3b" stroke-width="3"/><path d="M721.9,185.8 H733.6" stroke="#3b3b3b" stroke-width="2.5"/>
<g font-size="10.5"><text x="690.6" y="280.6">Ctl</text><text x="713.2" y="280.6">RIM1</text><text x="743.5" y="280.6">KD</text></g>
<text transform="translate(654.5,229) rotate(-90)" font-size="13.4" text-anchor="middle">Frequency (Hz)</text>
<g font-size="13">
<path d="M90,625.3 L90,504.5" stroke="#3b3b3b" stroke-width="2.2" fill="none"/><path d="M85,624.3 L90,624.3" stroke="#3b3b3b" stroke-width="2.2"/><path d="M85,584.7 L90,584.7" stroke="#3b3b3b" stroke-width="2.2"/><path d="M85,545.1 L90,545.1" stroke="#3b3b3b" stroke-width="2.2"/><path d="M85,505.5 L90,505.5" stroke="#3b3b3b" stroke-width="2.2"/><text x="83" y="628.3" text-anchor="end">0.0</text><text x="83" y="588.7" text-anchor="end">0.2</text><text x="83" y="549.1" text-anchor="end">0.4</text><text x="83" y="509.5" text-anchor="end">0.6</text>
<path d="M89,624.3 L171,624.3" stroke="#3b3b3b" stroke-width="2.2"/>
</g>
<path d="M110.2,525.2 V531 M102,525.2 H118.5" stroke="#3b3b3b" stroke-width="2.4"/>
<rect x="97.4" y="531.7" width="25.6" height="92.6" fill="#3b3b3b" stroke="#3b3b3b" stroke-width="2"/>
<path d="M150,577.4 V583 M142.3,577.4 H157.8" stroke="#3b3b3b" stroke-width="2.4"/>
<rect x="136.9" y="583.6" width="26" height="40.7" fill="#e23b3f" stroke="#3b3b3b" stroke-width="3"/>
<text transform="translate(59.5,567.5) rotate(-90)" font-size="13.8" text-anchor="middle">NMDAR/AMPAR Ratio</text>
<text transform="translate(118.5,635.5) rotate(-45)" font-size="14.3" text-anchor="end">Ctl RNAi</text>
<text transform="translate(156.5,635.5) rotate(-45)" font-size="14.3" text-anchor="end">RIM1 RNAi</text>
</g>
<text x="150.2" y="576" font-family="Liberation Sans" font-size="19" fill="#393939" text-anchor="middle">***</text>
<path d="M67.5,491 L67.6,431 L68.1,385.3 C68.6,380 69.5,378 70.2,378.1" stroke="#3b3b3b" stroke-width="1" fill="none"/>
<path d="M70.2,378.1 L70.3,378.6 L70.5,379.3 L70.8,380.1 L71,381 L71.3,381.9 L71.6,382.8 L71.9,383.6 L72.2,384.1 L72.5,384.8 L72.9,385.6 L73.3,385.3 L73.7,385.5 L74.1,385.9 L74.5,385.6 L74.9,386.4 L75.3,387 L75.7,387.7 L76,387.4 L76.3,388.3 L76.7,388.7 L77,390.4 L77.4,391 L77.8,390.9 L78.3,393.1 L78.8,394 L79.5,394.6 L80.1,395.6 L80.8,396.1 L81.5,397 L82.1,398.7 L82.8,399 L83.4,400.1 L84,400.8 L84.5,401.1 L85,402.3 L85.5,402.7 L85.9,403.7 L86.4,403.7 L86.9,404.3 L87.5,404.6 L88.1,405.4 L88.7,405.6 L89.4,405.9 L90.1,407.5 L90.7,408 L91.4,408.3 L92,408.6 L92.6,408.4 L93.1,408.6 L93.6,409 L94.1,408.8 L94.5,410 L95,409.6 L95.5,410.3 L96,409.8 L96.6,410.8 L97.3,410.9 L98.1,409.9 L98.9,410.4 L99.7,411.6 L100.6,411.3 L101.4,412.2 L102.1,411.7 L102.7,411.6 L103.2,412.8 L103.7,413.4 L104.1,413.2 L104.4,413.5 L104.7,414.3 L105,415.7 L105.2,415.9 L105.5,415.5 L105.7,416.1 L105.8,416.3 L105.9,416.7 L105.9,418.1 L106,417.6 L106.2,418.4 L106.4,418.5 L106.8,418.4 L107.3,419.2 L108,418.4 L108.7,419 L109.6,418.2 L110.4,418.4 L111.3,418 L112.1,418 L112.9,419 L113.7,418.7 L114.6,418.1 L115.5,419 L116.3,418.1 L117.2,418.5 L117.9,419.2 L118.5,419 L119,418.2" stroke="#3b3b3b" stroke-width="1.9" fill="none" stroke-linejoin="round"/>
<path d="M69,491 L69.2,488.6 L69.5,485.3 L69.8,481.4 L70.1,477.1 L70.5,472.7 L70.9,468.4 L71.4,464.5 L71.8,461.2 L72.3,458.6 L72.7,456.2 L73.2,454.1 L73.8,452.2 L74.3,450.5 L74.9,448.8 L75.6,447.2 L76.2,445.5 L77,443.8 L77.7,442.2 L78.5,440.7 L79.3,439.8 L80.2,437.4 L81.1,436.2 L82,435.6 L83,434 L84,433.1 L85.1,432.1 L86.2,431.5 L87.4,431.5 L88.5,430.6 L89.7,430.6 L90.9,430 L92,429.7 L93.1,429.9 L94.2,429 L95.3,428.9 L96.3,429 L97.4,428 L98.5,427.8 L99.6,428.6 L100.7,428.4 L101.8,427.7 L103,427.6 L104.2,428.3 L105.3,428.6 L106.5,427.8 L107.7,428.9 L108.8,428.9 L110,428.6 L111.2,428.5 L112.5,428.2 L113.8,428.2 L115.1,429.3 L116.3,428.5 L117.4,429.2 L118.3,428.7 L119,429.4" stroke="#3b3b3b" stroke-width="1.8" fill="none" stroke-linejoin="round"/>
<path d="M83.6,395.4 L83.6,409.7" stroke="#36c6dc" stroke-width="1.4"/>
<path d="M135.1,490 L135.1,428.6 L136.6,403.1 C137,401.5 138,401 138.7,401.1" stroke="#e23b3f" stroke-width="1" fill="none"/>
<path d="M138.7,401.1 L138.9,401.2 L139.1,401.4 L139.4,401.5 L139.8,401.7 L140.1,402 L140.5,402.3 L140.8,402.6 L141.2,403.2 L141.6,403.4 L141.9,404 L142.3,405.5 L142.7,405.5 L143,406.6 L143.4,407.8 L143.9,409 L144.3,409.3 L144.8,409.5 L145.3,410.8 L145.8,410.4 L146.3,410.6 L146.8,411.4 L147.3,412 L147.8,411.9 L148.3,412.4 L148.7,413 L149.1,413.6 L149.4,413.4 L149.8,413.9 L150.1,414.9 L150.5,415.3 L150.9,415.2 L151.4,415.5 L151.9,415.7 L152.5,415.5 L153.1,415.8 L153.7,416.1 L154.4,417.5 L155,417.6 L155.8,418.2 L156.5,417.3 L157.3,418.3 L158.1,418.3 L159,418.8 L159.9,418.4 L160.8,419.4 L161.8,418.5 L162.7,419.2 L163.6,419.7 L164.5,420.2 L165.3,420.3 L166.2,420.5 L167.1,421 L168,421.5 L168.8,421.2 L169.8,421.9 L170.7,422.5 L171.7,422.8 L172.8,422.6 L173.9,423.3 L175,423.8 L176,423.7 L177.1,424.1 L178,424.1 L178.9,424.6 L179.6,424.9 L180.3,424.5 L180.9,425.5 L181.4,426.1 L181.9,426.2 L182.4,426.2 L182.9,425.9 L183.4,426.3 L183.9,426 L184.4,425.6 L185,425.8 L185.5,424.6 L186,425.1 L186.4,423.9 L186.7,424.3 L187,424" stroke="#e23b3f" stroke-width="1.8" fill="none" stroke-linejoin="round"/>
<path d="M137.3,490.6 L137.4,488.6 L137.6,486 L137.8,482.8 L138,479.3 L138.2,475.6 L138.5,471.9 L138.8,468.3 L139.2,465 L139.6,461.8 L140,458.5 L140.5,455.2 L141.1,451.9 L141.6,448.8 L142.2,445.8 L142.7,443.1 L143.3,440.8 L143.9,438.8 L144.5,437.1 L145.1,435.6 L145.7,434.1 L146.3,433.4 L147,432.3 L147.6,431.5 L148.3,431 L149,429.7 L149.6,428.9 L150.1,428.8 L150.8,428.8 L151.5,428.2 L152.3,428 L153.2,428.5 L154.4,428.1 L155.8,427.8 L157.3,428.1 L159,427.5 L160.8,427.8 L162.7,427.3 L164.7,427.5 L166.7,427.9 L168.7,428 L170.9,428 L173.4,427.5 L176.1,427.8 L178.7,427.6 L181.3,427.5 L183.6,427.9 L185.6,428.3 L187,428.3" stroke="#e23b3f" stroke-width="1.6" fill="none" stroke-linejoin="round"/>
<path d="M151.6,408.2 L151.6,420" stroke="#36c6dc" stroke-width="1.4"/>
<g font-family="Liberation Sans" font-size="14" fill="#444"><text x="61.5" y="419" text-anchor="end">+40</text><text x="58.5" y="450.5" text-anchor="end">-70</text></g>
<path d="M82,467 L97.5,467 L97.5,453" stroke="#3b3b3b" stroke-width="2.2" fill="none"/>
<g font-family="Liberation Sans" font-size="11.2" fill="#444"><text x="101.5" y="463.8">50 pA</text><text x="79.5" y="478.8">50 sm</text></g>
<g font-family="Liberation Sans" font-weight="bold" fill="#393939" stroke="#393939" stroke-width="0.3">
<g font-size="12">
<path d="M305,570.5 L305,448.8" stroke="#3b3b3b" stroke-width="2.2" fill="none"/><path d="M300,569.5 L305,569.5" stroke="#3b3b3b" stroke-width="2.2"/><path d="M300,545.6 L305,545.6" stroke="#3b3b3b" stroke-width="2.2"/><path d="M300,521.6 L305,521.6" stroke="#3b3b3b" stroke-width="2.2"/><path d="M300,497.7 L305,497.7" stroke="#3b3b3b" stroke-width="2.2"/><path d="M300,473.7 L305,473.7" stroke="#3b3b3b" stroke-width="2.2"/><path d="M300,449.8 L305,449.8" stroke="#3b3b3b" stroke-width="2.2"/><text x="298" y="573.5" text-anchor="end">0</text><text x="298" y="549.5" text-anchor="end">100</text><text x="298" y="525.6" text-anchor="end">200</text><text x="298" y="501.6" text-anchor="end">300</text><text x="298" y="477.7" text-anchor="end">400</text><text x="298" y="453.8" text-anchor="end">500</text>
<path d="M304,569.5 L606,569.5" stroke="#3b3b3b" stroke-width="2.2" fill="none"/><path d="M305,569.5 L305,574.5" stroke="#3b3b3b" stroke-width="2.2"/><path d="M365,569.5 L365,574.5" stroke="#3b3b3b" stroke-width="2.2"/><path d="M425,569.5 L425,574.5" stroke="#3b3b3b" stroke-width="2.2"/><path d="M485,569.5 L485,574.5" stroke="#3b3b3b" stroke-width="2.2"/><path d="M545,569.5 L545,574.5" stroke="#3b3b3b" stroke-width="2.2"/><path d="M605,569.5 L605,574.5" stroke="#3b3b3b" stroke-width="2.2"/><text x="305" y="586" text-anchor="middle">0</text><text x="365" y="586" text-anchor="middle">10</text><text x="425" y="586" text-anchor="middle">20</text><text x="485" y="586" text-anchor="middle">30</text><text x="545" y="586" text-anchor="middle">40</text><text x="605" y="586" text-anchor="middle">50</text>
</g>
<text x="458.7" y="614" font-size="14" text-anchor="middle">Time (min)</text>
<text transform="translate(268,503.3) rotate(-90)" font-size="14" text-anchor="middle">EPSC (%)</text>
</g>
<path d="M311,549.2 V554.9 M317,547.2 V553 M323,543.9 V549.6 M329,536.5 V542.2 M335,536.2 V542 M347,463.9 V490.3 M353,464.6 V494.3 M359,460.5 V488.4 M365,463.9 V494.2 M371,461.8 V492.4 M377,460.2 V484.9 M383,466 V490.1 M389,459 V491.8 M395,459.7 V486.4 M401,457.2 V483.6 M407,451.3 V485.7 M413,445.5 V485.2 M419,453.1 V485.8 M425,457.6 V486.5 M431,462 V492.7 M437,469.6 V495.1 M443,467 V497.7 M449,468 V501.1 M455,464.3 V493.7 M461,459.8 V491.5 M467,458.5 V489.5 M473,450.5 V490.3 M479,453.7 V485.6 M485,459.4 V489.5 M491,467.4 V494.5 M497,467.4 V491.6 M503,464.4 V497.5 M509,465.5 V494.4 M515,459.9 V491.4 M521,465 V498.2 M527,465.2 V496.7 M533,474.2 V507.8 M539,480.3 V508.4 M545,471.2 V503.6 M551,466.4 V495 M557,467.1 V500.9 M563,470.3 V503.5 M569,484 V509 M575,487.6 V513 M581,483.8 V510.1 M587,475.4 V509.5 M593,480.8 V509.3 M599,476.4 V507 M605,484.8 V512" stroke="#6e6e6e" stroke-width="1.9" fill="none"/>
<g fill="none" stroke="#333" stroke-width="1.3">
<circle cx="311" cy="552" r="4"/>
<circle cx="317" cy="550.1" r="4"/>
<circle cx="323" cy="546.8" r="4"/>
<circle cx="329" cy="539.3" r="4"/>
<circle cx="335" cy="539.1" r="4"/>
<circle cx="347" cy="477.1" r="4"/>
<circle cx="353" cy="479.5" r="4"/>
<circle cx="359" cy="474.5" r="4"/>
<circle cx="365" cy="479" r="4"/>
<circle cx="371" cy="477.1" r="4"/>
<circle cx="377" cy="472.5" r="4"/>
<circle cx="383" cy="478" r="4"/>
<circle cx="389" cy="475.4" r="4"/>
<circle cx="395" cy="473" r="4"/>
<circle cx="401" cy="470.4" r="4"/>
<circle cx="407" cy="468.5" r="4"/>
<circle cx="413" cy="465.4" r="4"/>
<circle cx="419" cy="469.4" r="4"/>
<circle cx="425" cy="472.1" r="4"/>
<circle cx="431" cy="477.3" r="4"/>
<circle cx="437" cy="482.4" r="4"/>
<circle cx="443" cy="482.4" r="4"/>
<circle cx="449" cy="484.5" r="4"/>
<circle cx="455" cy="479" r="4"/>
<circle cx="461" cy="475.7" r="4"/>
<circle cx="467" cy="474" r="4"/>
<circle cx="473" cy="470.4" r="4"/>
<circle cx="479" cy="469.7" r="4"/>
<circle cx="485" cy="474.5" r="4"/>
<circle cx="491" cy="480.9" r="4"/>
<circle cx="497" cy="479.5" r="4"/>
<circle cx="503" cy="480.9" r="4"/>
<circle cx="509" cy="480" r="4"/>
<circle cx="515" cy="475.7" r="4"/>
<circle cx="521" cy="481.6" r="4"/>
<circle cx="527" cy="480.9" r="4"/>
<circle cx="533" cy="491" r="4"/>
<circle cx="539" cy="494.3" r="4"/>
<circle cx="545" cy="487.4" r="4"/>
<circle cx="551" cy="480.7" r="4"/>
<circle cx="557" cy="484" r="4"/>
<circle cx="563" cy="486.9" r="4"/>
<circle cx="569" cy="496.5" r="4"/>
<circle cx="575" cy="500.3" r="4"/>
<circle cx="581" cy="497" r="4"/>
<circle cx="587" cy="492.4" r="4"/>
<circle cx="593" cy="495" r="4"/>
<circle cx="599" cy="491.7" r="4"/>
<circle cx="605" cy="498.4" r="4"/>
</g>
<path d="M311,545.7 V549.5 M317,541.7 V545.6 M323,545.1 V548.9 M329,541.7 V545.6 M335,545.7 V549.5 M347,523.2 V534 M353,524.5 V534.5 M359,519.6 V529.3 M365,509.9 V521.3 M371,513.8 V525.2 M377,510.5 V524.1 M383,510.1 V522.2 M389,504.6 V518.5 M395,511.4 V524.7 M401,509.2 V523.5 M407,511.3 V523.3 M413,510.7 V519.1 M419,512.3 V525.7 M425,509.3 V523.4 M431,513.1 V526.8 M437,515.3 V526.5 M443,513.8 V526.1 M449,520.1 V528.8 M455,519.8 V533 M461,522.4 V533.7 M467,521.8 V531 M473,522.6 V530.2 M479,522.6 V535.9 M485,523.8 V538.1 M491,528.5 V536.3 M497,525 V537.9 M503,525.7 V535.8 M509,531.4 V539.6 M515,529.4 V538.7 M521,525.6 V538.3 M527,529.3 V542.7 M533,529.8 V537.3 M539,530.7 V542.3 M545,532.2 V539.7 M551,532.4 V544.8 M557,535.8 V545.3 M563,528.8 V542.3 M569,531.5 V545.7 M575,530.1 V540.9 M581,530.7 V545.1 M587,534.9 V544.3 M593,538.1 V545.8 M599,535.7 V547.2 M605,538.7 V546.2" stroke="#6a6a6a" stroke-width="1.4" fill="none"/>
<g fill="#e23b3f" stroke="#3a3a3a" stroke-width="1">
<circle cx="311" cy="547.6" r="4.2"/>
<circle cx="317" cy="543.6" r="4.2"/>
<circle cx="323" cy="547" r="4.2"/>
<circle cx="329" cy="543.6" r="4.2"/>
<circle cx="335" cy="547.6" r="4.2"/>
<circle cx="347" cy="528.6" r="4.2"/>
<circle cx="353" cy="529.5" r="4.2"/>
<circle cx="359" cy="524.5" r="4.2"/>
<circle cx="365" cy="515.6" r="4.2"/>
<circle cx="371" cy="519.5" r="4.2"/>
<circle cx="377" cy="517.3" r="4.2"/>
<circle cx="383" cy="516.1" r="4.2"/>
<circle cx="389" cy="511.6" r="4.2"/>
<circle cx="395" cy="518" r="4.2"/>
<circle cx="401" cy="516.4" r="4.2"/>
<circle cx="407" cy="517.3" r="4.2"/>
<circle cx="413" cy="514.9" r="4.2"/>
<circle cx="419" cy="519" r="4.2"/>
<circle cx="425" cy="516.4" r="4.2"/>
<circle cx="431" cy="519.9" r="4.2"/>
<circle cx="437" cy="520.9" r="4.2"/>
<circle cx="443" cy="519.9" r="4.2"/>
<circle cx="449" cy="524.5" r="4.2"/>
<circle cx="455" cy="526.4" r="4.2"/>
<circle cx="461" cy="528.1" r="4.2"/>
<circle cx="467" cy="526.4" r="4.2"/>
<circle cx="473" cy="526.4" r="4.2"/>
<circle cx="479" cy="529.3" r="4.2"/>
<circle cx="485" cy="531" r="4.2"/>
<circle cx="491" cy="532.4" r="4.2"/>
<circle cx="497" cy="531.4" r="4.2"/>
<circle cx="503" cy="530.7" r="4.2"/>
<circle cx="509" cy="535.5" r="4.2"/>
<circle cx="515" cy="534.1" r="4.2"/>
<circle cx="521" cy="531.9" r="4.2"/>
<circle cx="527" cy="536" r="4.2"/>
<circle cx="533" cy="533.6" r="4.2"/>
<circle cx="539" cy="536.5" r="4.2"/>
<circle cx="545" cy="536" r="4.2"/>
<circle cx="551" cy="538.6" r="4.2"/>
<circle cx="557" cy="540.5" r="4.2"/>
<circle cx="563" cy="535.5" r="4.2"/>
<circle cx="569" cy="538.6" r="4.2"/>
<circle cx="575" cy="535.5" r="4.2"/>
<circle cx="581" cy="537.9" r="4.2"/>
<circle cx="587" cy="539.6" r="4.2"/>
<circle cx="593" cy="542" r="4.2"/>
<circle cx="599" cy="541.5" r="4.2"/>
<circle cx="605" cy="542.4" r="4.2"/>
</g>
<circle cx="335.6" cy="435.6" r="3.8" fill="none" stroke="#333" stroke-width="1.2"/>
<circle cx="467.9" cy="435.6" r="4" fill="#e23b3f" stroke="#5a2a2a" stroke-width="0.8"/>
<g font-family="Liberation Sans" font-size="14" fill="#393939"><text x="351.3" y="440.5">Ctl RNAi</text><text x="483.6" y="440.5">RIM1 RNAi</text>
<text x="330.7" y="532.5" text-anchor="middle" font-size="13">1</text><text x="595.3" y="475.5" text-anchor="middle" font-size="13">2</text>
<text x="352.8" y="552.3" font-size="11">2 × 1 s</text><text x="352.8" y="565.4" font-size="11">at 100 Hz</text></g>
<path d="M343,554.5 L350,565.4 L336,565.4 Z" fill="none" stroke="#333" stroke-width="1.4"/>
<g font-family="Liberation Sans" font-weight="bold" fill="#393939" stroke="#393939" stroke-width="0.3">
<g font-size="12">
<path d="M700.8,551.4 L700.8,407.4" stroke="#3b3b3b" stroke-width="2.2" fill="none"/><path d="M695.8,550.4 L700.8,550.4" stroke="#3b3b3b" stroke-width="2.2"/><path d="M695.8,514.9 L700.8,514.9" stroke="#3b3b3b" stroke-width="2.2"/><path d="M695.8,479.4 L700.8,479.4" stroke="#3b3b3b" stroke-width="2.2"/><path d="M695.8,443.9 L700.8,443.9" stroke="#3b3b3b" stroke-width="2.2"/><path d="M695.8,408.4 L700.8,408.4" stroke="#3b3b3b" stroke-width="2.2"/><text x="694" y="554.4" text-anchor="end">0</text><text x="694" y="518.9" text-anchor="end">100</text><text x="694" y="483.4" text-anchor="end">200</text><text x="694" y="447.9" text-anchor="end">300</text><text x="694" y="412.4" text-anchor="end">400</text>
<path d="M700,550.4 L795.5,550.4" stroke="#3b3b3b" stroke-width="2.2"/>
</g>
<path d="M723.5,418.4 V433.4 M715,418.4 H732" stroke="#3b3b3b" stroke-width="2.4"/>
<rect x="707.8" y="434.4" width="31.4" height="116" fill="#3b3b3b" stroke="#3b3b3b" stroke-width="2"/>
<path d="M771,497.6 V504.3 M762,497.6 H779.6" stroke="#3b3b3b" stroke-width="2.4"/>
<rect x="755.3" y="504.3" width="31.6" height="46.1" fill="#e23b3f" stroke="#3b3b3b" stroke-width="2.4"/>
<text transform="translate(668,482) rotate(-90)" font-size="14.3" text-anchor="middle">LTP (% of baseline)</text>
<text transform="translate(731,562) rotate(-45)" font-size="14.3" text-anchor="end">Ctl RNAi</text>
<text transform="translate(779.5,560) rotate(-45)" font-size="14.3" text-anchor="end">RIM1 RNAi</text>
</g>
<text x="770.3" y="494" font-family="Liberation Sans" font-size="18" fill="#393939" text-anchor="middle">**</text>
</svg></body></html>
